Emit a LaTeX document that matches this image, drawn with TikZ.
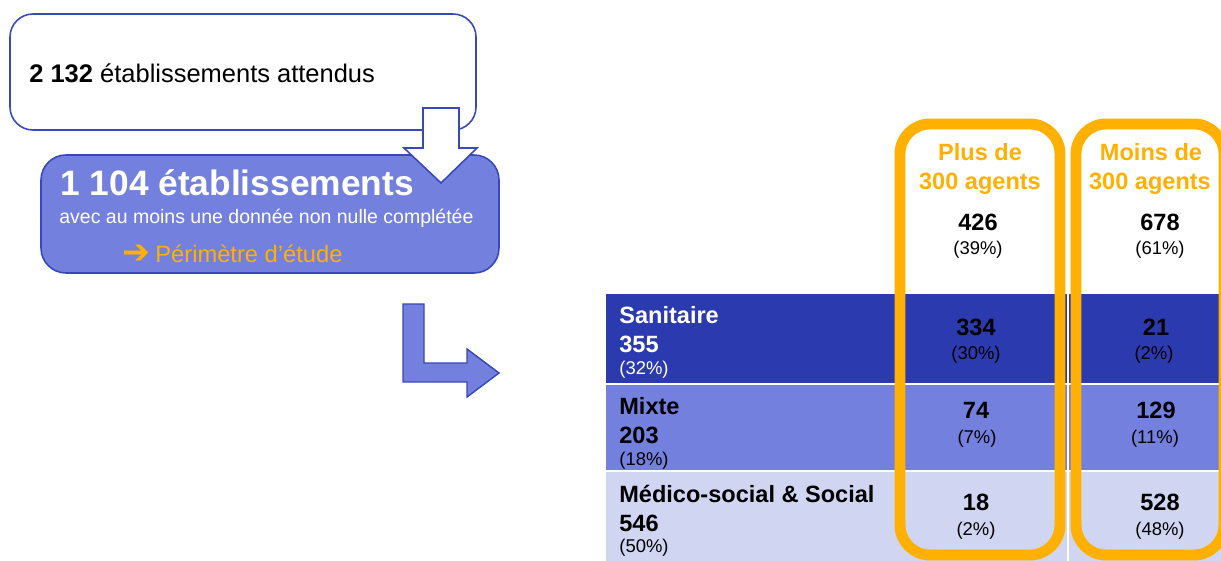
\documentclass[tikz,border=0pt]{standalone}
\usepackage{fontspec}
\setmainfont{Liberation Sans}
\newfontfamily\arrowfont{DejaVu Sans}

\definecolor{rowdark}{HTML}{2B3AAE}
\definecolor{rowmid}{HTML}{7480DD}
\definecolor{rowlight}{HTML}{D0D5F2}
\definecolor{frameblue}{HTML}{3848BA}
\definecolor{agentorange}{HTML}{FFB000}

\newcommand{\bigtxt}{\fontsize{13.4}{16}\selectfont}
\newcommand{\pcttxt}{\fontsize{10.5}{12}\selectfont}

\begin{document}
\begin{tikzpicture}[x=0.02cm,y=-0.02cm]
\useasboundingbox (0,0) rectangle (1221,561);
\clip (0,0) rectangle (1221,561);

\begin{scope}
    \fill[rowdark] (606,294) rectangle (1221,383);
    \fill[rowmid] (606,385) rectangle (1221,470);
    \fill[rowlight] (606,472) rectangle (1221,561);
    \draw[white,line width=0.8pt] (1068,294) -- (1068,561);
\end{scope}

\begin{scope}[agentorange, line width=6.2pt, rounded corners=0.6cm]
    \draw (900,124) rectangle (1060,555);
    \draw (1076,124) rectangle (1224,555);
\end{scope}

\begin{scope}[frameblue, line width=0.9pt]
    \draw[fill=white, rounded corners=0.46cm] (10,14) rectangle (476,130);
    \draw[fill=rowmid, rounded corners=0.5cm] (41,155) rectangle (499,273);
    \draw[fill=white] (423,108) -- (459,108) -- (459,148) -- (477,148)
        -- (441,183) -- (404,148) -- (423,148) -- cycle;
    \draw[fill=rowmid, line width=0.8pt] (403,304) -- (424,304) -- (424,363)
        -- (467,363) -- (467,349) -- (499,373) -- (467,397) -- (467,382)
        -- (403,382) -- cycle;
\end{scope}

\begin{scope}[every node/.style={inner sep=0pt, anchor=base west}]
    \node (expected) at (29,82) {\fontsize{14.5}{17}\selectfont\textbf{2 132} établissements attendus};
    \node[white] (retained) at (60,195) {\fontsize{20.1}{24}\selectfont\bfseries 1 104 établissements};
    \node[white] (retainednote) at (59,223) {\fontsize{11.1}{13}\selectfont avec au moins une donnée non nulle complétée};
    \node[agentorange, anchor=west] (scopearrow) at (122,254) {\fontsize{19}{20}\selectfont\arrowfont\bfseries ➔};
    \node[agentorange] (scopetext) at (155,262) {\fontsize{13.5}{16}\selectfont Périmètre d’étude};

    \node[white] (sanlabel) at (619,323) {\bigtxt\bfseries Sanitaire};
    \node[white] (sannum) at (619,352) {\bigtxt\bfseries 355};
    \node[white] (sanpct) at (619,374) {\pcttxt (32\%)};
    \node (mixlabel) at (619,414) {\bigtxt\bfseries Mixte};
    \node (mixnum) at (619,443) {\bigtxt\bfseries 203};
    \node (mixpct) at (619,465) {\pcttxt (18\%)};
    \node (msslabel) at (619,502) {\bigtxt\bfseries Médico-social \& Social};
    \node (mssnum) at (619,531) {\bigtxt\bfseries 546};
    \node (msspct) at (619,552) {\pcttxt (50\%)};
\end{scope}

\begin{scope}[every node/.style={inner sep=0pt, anchor=base}]
    \node[agentorange] (plushead) at (980,160) {\bigtxt\bfseries Plus de};
    \node[agentorange] (plusheadb) at (980,189) {\bigtxt\bfseries 300 agents};
    \node (plustot) at (978,230) {\bigtxt\bfseries 426};
    \node (plustotpct) at (978,254) {\pcttxt (39\%)};
    \node (plussan) at (976,335) {\bigtxt\bfseries 334};
    \node (plussanpct) at (976,359) {\pcttxt (30\%)};
    \node (plusmix) at (976,418) {\bigtxt\bfseries 74};
    \node (plusmixpct) at (977,443) {\pcttxt (7\%)};
    \node (plusmss) at (976,510) {\bigtxt\bfseries 18};
    \node (plusmsspct) at (976,535) {\pcttxt (2\%)};

    \node[agentorange] (moinshead) at (1151,160) {\bigtxt\bfseries Moins de};
    \node[agentorange] (moinsheadb) at (1150,189) {\bigtxt\bfseries 300 agents};
    \node (moinstot) at (1160,230) {\bigtxt\bfseries 678};
    \node (moinstotpct) at (1160,254) {\pcttxt (61\%)};
    \node (moinssan) at (1156,335) {\bigtxt\bfseries 21};
    \node (moinssanpct) at (1154,359) {\pcttxt (2\%)};
    \node (moinsmix) at (1156,418) {\bigtxt\bfseries 129};
    \node (moinsmixpct) at (1155,443) {\pcttxt (11\%)};
    \node (moinsmss) at (1160,510) {\bigtxt\bfseries 528};
    \node (moinsmsspct) at (1160,535) {\pcttxt (48\%)};
\end{scope}
\end{tikzpicture}
\end{document}
